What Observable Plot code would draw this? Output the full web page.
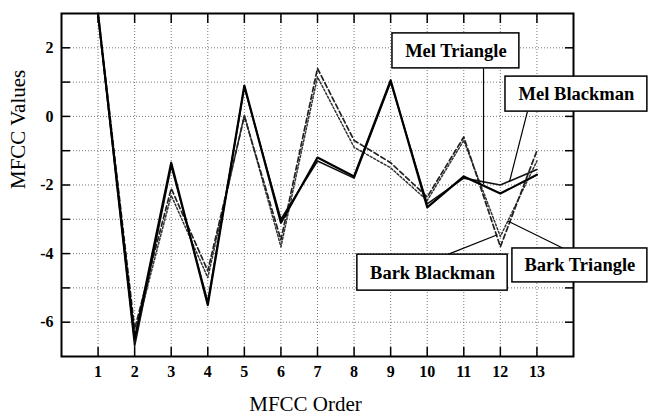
<!DOCTYPE html>
<html><head><meta charset="utf-8">
<script src="https://cdn.jsdelivr.net/npm/d3@7"></script>
<script src="https://cdn.jsdelivr.net/npm/@observablehq/plot@0.6"></script>
<style>body{margin:0;background:#fff}</style>
</head><body><div id="chart"></div>
<script>
const orders = [1,2,3,4,5,6,7,8,9,10,11,12,13];
const melTriangle  = [3.0, -6.5, -1.35, -5.5, 0.9, -3.1, -1.2, -1.75, 1.05, -2.65, -1.75, -2.25, -1.7];
const melBlackman  = [2.95, -6.7, -1.45, -5.4, 0.85, -3.0, -1.3, -1.8, 1.0, -2.55, -1.8, -2.0, -1.55];
const barkBlackman = [3.0, -6.2, -2.1, -4.5, 0.0, -3.6, 1.4, -0.7, -1.35, -2.35, -0.6, -3.8, -1.0];
const barkTriangle = [2.9, -6.4, -2.3, -4.7, 0.05, -3.8, 1.15, -0.9, -1.5, -2.45, -0.7, -3.5, -1.3];
const yTicks = [-6,-5,-4,-3,-2,-1,0,1,2];
const yLabels = [-6,-4,-2,0,2];

const rows = vals => orders.map((o,i) => ({order:o, value: vals[i]}));

// annotation boxes (data coordinates)
const annotations = [
  {label:"Mel Triangle",  x1:9.05,  x2:12.52, y1:1.40,  y2:2.42,  lx1:11.54, ly1:1.40,  lx2:11.54, ly2:-1.98},
  {label:"Mel Blackman",  x1:12.14, x2:16.02, y1:0.14,  y2:1.16,  lx1:12.74, ly1:0.14,  lx2:12.25, ly2:-1.90},
  {label:"Bark Blackman", x1:8.09,  x2:12.2,  y1:-5.08, y2:-4.03, lx1:10.55, ly1:-4.03, lx2:11.92, ly2:-3.45},
  {label:"Bark Triangle", x1:12.33, x2:16.02, y1:-4.84, y2:-3.85, lx1:13.73, ly1:-3.85, lx2:12.2,  ly2:-3.05}
];

const font = "'Liberation Serif', 'Times New Roman', serif";

const chart = Plot.plot({
  width: 648, height: 418,
  marginLeft: 61, marginRight: 75, marginTop: 13, marginBottom: 62,
  style: {fontFamily: font, background: "#fff", color: "#000"},
  x: {domain: [0, 14]},
  y: {domain: [-7, 3]},
  marks: [
    Plot.gridX(orders, {stroke: "#777", strokeOpacity: 1, strokeDasharray: "1,2"}),
    Plot.gridY(yTicks, {stroke: "#777", strokeOpacity: 1, strokeDasharray: "1,2"}),
    Plot.lineY(rows(barkTriangle), {x: "order", y: "value", stroke: "#333", strokeWidth: 1.5, strokeDasharray: "2,2"}),
    Plot.lineY(rows(barkBlackman), {x: "order", y: "value", stroke: "#222", strokeWidth: 1.7, strokeDasharray: "5,3"}),
    Plot.lineY(rows(melBlackman), {x: "order", y: "value", stroke: "#111", strokeWidth: 1.6}),
    Plot.lineY(rows(melTriangle), {x: "order", y: "value", stroke: "#000", strokeWidth: 2.2}),
    // tick labels (bold)
    Plot.text(yLabels, {y: d => d, frameAnchor: "left", dx: -8, textAnchor: "end", text: d => String(d), fontSize: 16, fontWeight: "bold"}),
    Plot.text(orders, {x: d => d, frameAnchor: "bottom", dy: 20, text: d => String(d), fontSize: 16, fontWeight: "bold"}),
    // inward ticks on all sides
    Plot.axisY(yTicks, {anchor: "left", tickSize: -9, strokeWidth: 1.5, tickFormat: () => "", label: null}),
    Plot.axisY(yTicks, {anchor: "right", tickSize: -9, strokeWidth: 1.5, tickFormat: () => "", label: null}),
    Plot.axisX(orders, {anchor: "bottom", tickSize: -9, strokeWidth: 1.5, tickFormat: () => "", label: null}),
    Plot.axisX(orders, {anchor: "top", tickSize: -9, strokeWidth: 1.5, tickFormat: () => "", label: null}),
    Plot.frame({stroke: "#000", strokeWidth: 2}),
    // axis titles
    Plot.text(["MFCC Values"], {frameAnchor: "left", dx: -43, dy: 4, rotate: -90, fontSize: 21, text: d => d}),
    Plot.text(["MFCC Order"], {frameAnchor: "bottom", dx: -12, dy: 54, fontSize: 21, text: d => d}),
    // annotations
    Plot.link(annotations, {x1: "lx1", y1: "ly1", x2: "lx2", y2: "ly2", stroke: "#000", strokeWidth: 1.2}),
    Plot.rect(annotations, {x1: "x1", x2: "x2", y1: "y1", y2: "y2", fill: "#fff", stroke: "#000", strokeWidth: 1.5}),
    Plot.text(annotations, {x: d => (d.x1 + d.x2) / 2, y: d => (d.y1 + d.y2) / 2, text: "label", fontSize: 18.5, fontWeight: "bold"})
  ]
});
document.getElementById("chart").appendChild(chart);
</script>
</body></html>
